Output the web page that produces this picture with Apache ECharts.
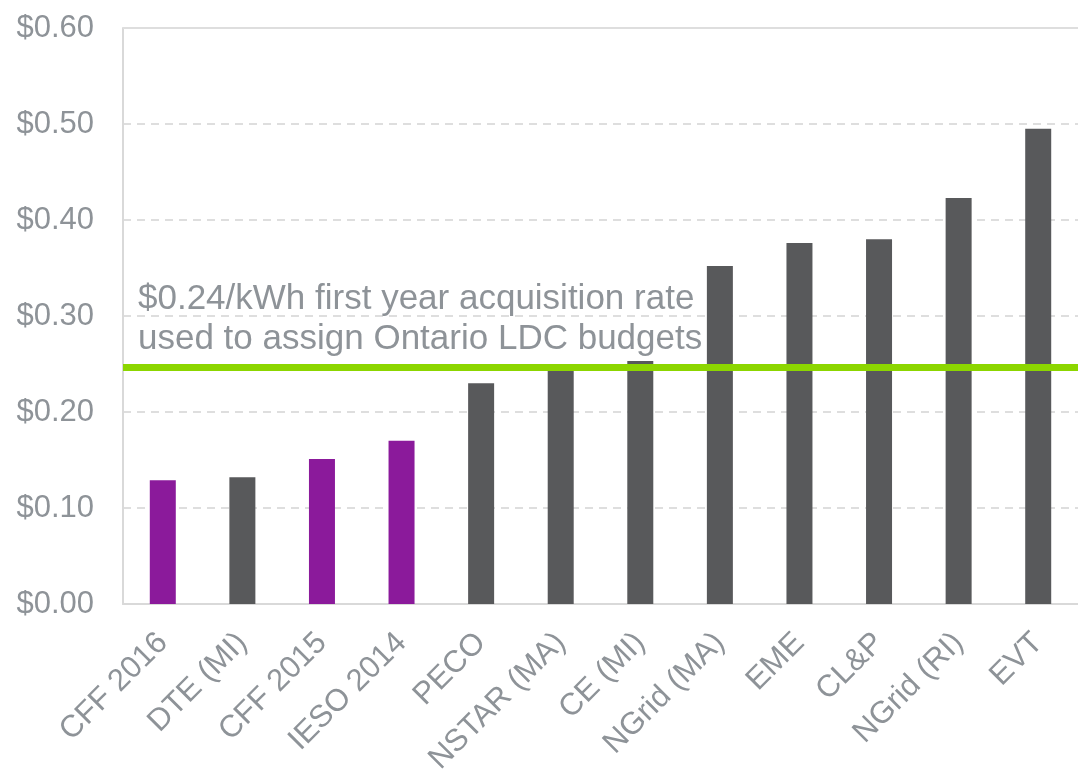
<!DOCTYPE html>
<html>
<head>
<meta charset="utf-8">
<style>
  html, body { margin: 0; padding: 0; background: #fff; }
  #chart { width: 1078px; height: 774px; }
</style>
<script src="https://cdn.jsdelivr.net/npm/echarts@6/dist/echarts.min.js"></script>
</head>
<body>
<div id="chart"></div>
<script>
// data
const categories = ['CFF 2016', 'DTE (MI)', 'CFF 2015', 'IESO 2014', 'PECO', 'NSTAR (MA)',
  'CE (MI)', 'NGrid (MA)', 'EME', 'CL&P', 'NGrid (RI)', 'EVT'];
const costs = [0.129, 0.132, 0.151, 0.170, 0.230, 0.245, 0.253, 0.352, 0.376, 0.380, 0.423, 0.495];
const highlighted = [true, false, true, true, false, false, false, false, false, false, false, false];
const acquisitionRate = 0.247;
const yTicks = [0, 0.1, 0.2, 0.3, 0.4, 0.5, 0.6];

const PURPLE = '#8b1a9b';
const GREY = '#58595b';
const GREEN = '#8cd600';
const TEXT = '#8e9398';
const FONT = '"Liberation Sans", Arial, sans-serif';

const chart = echarts.init(document.getElementById('chart'));

chart.setOption({
  animation: false,
  textStyle: { fontFamily: FONT },
  grid: { left: 123, right: 0, top: 28, bottom: 170, outerBoundsMode: 'none' },
  xAxis: {
    type: 'category',
    data: categories,
    axisLine: { lineStyle: { color: '#d9d9d9', width: 2 } },
    axisTick: { show: false },
    axisLabel: {
      rotate: 45,
      margin: 34,
      color: TEXT,
      fontSize: 31,
      fontFamily: FONT,
      interval: 0
    }
  },
  yAxis: {
    type: 'value',
    min: yTicks[0],
    max: yTicks[yTicks.length - 1],
    interval: 0.1,
    axisLine: { show: true, lineStyle: { color: '#d9d9d9', width: 2 } },
    axisTick: { show: false },
    splitLine: { lineStyle: { color: '#dedede', type: [8, 6], width: 2 } },
    axisLabel: {
      margin: 29,
      color: TEXT,
      fontSize: 31,
      fontFamily: FONT,
      formatter: v => '$' + v.toFixed(2)
    }
  },
  series: [{
    type: 'bar',
    data: costs.map((v, i) => ({
      value: v,
      itemStyle: { color: highlighted[i] ? PURPLE : GREY }
    })),
    barWidth: 26,
    z: 2,
    markLine: {
      silent: true,
      symbol: 'none',
      precision: 3,
      z: 5,
      data: [
        {
          yAxis: acquisitionRate,
          lineStyle: { color: GREEN, width: 7, type: 'solid' },
          label: {
            show: true,
            position: 'insideStartTop',
            formatter: '$0.24/kWh first year acquisition rate\nused to assign Ontario LDC budgets',
            color: TEXT,
            fontSize: 35,
            lineHeight: 40,
            fontFamily: FONT,
            align: 'left',
            distance: [15, 8]
          }
        },
        {
          yAxis: yTicks[yTicks.length - 1],
          lineStyle: { color: '#dedede', width: 2, type: 'solid' },
          label: { show: false }
        }
      ]
    }
  }]
});

window.addEventListener('resize', () => chart.resize());
</script>
</body>
</html>
